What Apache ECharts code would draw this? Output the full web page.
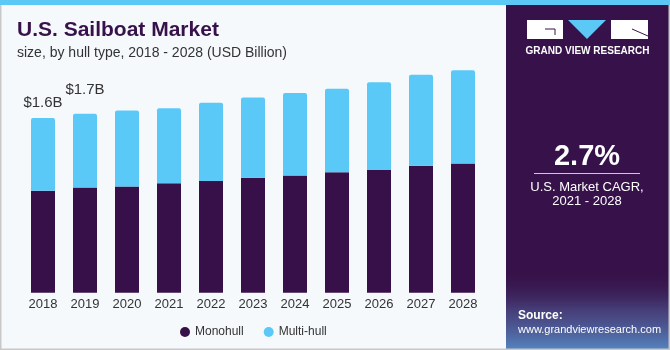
<!DOCTYPE html>
<html>
<head>
<meta charset="utf-8">
<script src="https://cdn.jsdelivr.net/npm/echarts@6/dist/echarts.min.js"></script>
<style>
  html, body { margin: 0; padding: 0; background: #ffffff; }
  #chart { width: 670px; height: 350px; }
</style>
</head>
<body>
<div id="chart"></div>
<script>
// values (USD Billion)
const years = ['2018', '2019', '2020', '2021', '2022', '2023', '2024', '2025', '2026', '2027', '2028'];
const monohull = [0.94, 0.97, 0.98, 1.01, 1.03, 1.06, 1.08, 1.11, 1.13, 1.17, 1.19];
const multihull = [0.67, 0.68, 0.70, 0.69, 0.72, 0.74, 0.76, 0.77, 0.81, 0.84, 0.86];
const totalLabels = ['$1.6B', '$1.7B'];

const chart = echarts.init(document.getElementById('chart'));

// only the first two bars carry a total label
const multiData = multihull.map((v, i) => {
  if (i < totalLabels.length) {
    return {
      value: v,
      label: {
        show: true,
        position: 'top',
        distance: i === 0 ? 8 : 16,
        formatter: totalLabels[i],
        fontSize: 15,
        color: '#333333',
        fontFamily: 'Liberation Sans'
      }
    };
  }
  return v;
});

const option = {
  backgroundColor: '#f5f9fc',
  animation: false,
  title: {
    text: 'U.S. Sailboat Market',
    subtext: 'size, by hull type, 2018 - 2028 (USD Billion)',
    left: 12,
    top: 15,
    itemGap: 5,
    textStyle: { fontSize: 21, fontWeight: 'bold', color: '#37124a', fontFamily: 'Liberation Sans' },
    subtextStyle: { fontSize: 14, color: '#333333', fontFamily: 'Liberation Sans' }
  },
  legend: {
    data: ['Monohull', 'Multi-hull'],
    left: 175,
    top: 321,
    icon: 'circle',
    itemWidth: 10,
    itemHeight: 10,
    itemGap: 20,
    textStyle: { fontSize: 12, color: '#333333', fontFamily: 'Liberation Sans' }
  },
  grid: { left: 22, right: 186, top: 49.7, bottom: 57.3 },
  xAxis: {
    type: 'category',
    data: years,
    axisLine: { show: false },
    axisTick: { show: false },
    axisLabel: { fontSize: 13, color: '#333333', margin: 5, fontFamily: 'Liberation Sans' }
  },
  yAxis: {
    type: 'value',
    min: 0,
    max: 2.24,
    show: false,
    splitLine: { show: false }
  },
  series: [
    {
      name: 'Monohull',
      type: 'bar',
      stack: 'total',
      barWidth: 24,
      data: monohull,
      itemStyle: { color: '#37104a' }
    },
    {
      name: 'Multi-hull',
      type: 'bar',
      stack: 'total',
      barWidth: 24,
      data: multiData,
      itemStyle: { color: '#5bc9f7', borderRadius: [2, 2, 0, 0] }
    }
  ],
  graphic: [
    // outer border and top stripe
    { type: 'rect', shape: { x: 0.5, y: 0.5, width: 669, height: 349 }, style: { fill: 'none', stroke: '#c8c8c8', lineWidth: 2 }, z: 100 },
    { type: 'rect', shape: { x: 0, y: 0, width: 670, height: 5 }, style: { fill: '#5bc8f5' }, z: 101 },
    // right panel
    { type: 'rect', shape: { x: 506, y: 5, width: 163, height: 344 }, style: { fill: '#37124a' }, z: 10 },
    {
      type: 'rect', shape: { x: 506, y: 270, width: 163, height: 79 },
      style: {
        fill: new echarts.graphic.LinearGradient(0, 0, 0, 1, [
          { offset: 0, color: 'rgba(55,18,74,0)' },
          { offset: 0.5, color: 'rgba(80,90,150,0.6)' },
          { offset: 1, color: 'rgba(90,150,210,0.85)' }
        ])
      }, z: 11
    },
    // logo
    { type: 'rect', shape: { x: 527, y: 20, width: 36, height: 19 }, style: { fill: '#ffffff' }, z: 12 },
    { type: 'polyline', shape: { points: [[545, 29], [555, 29], [555, 35]] }, style: { stroke: '#37124a', lineWidth: 1, fill: 'none' }, z: 13 },
    { type: 'polygon', shape: { points: [[568, 20], [606, 20], [587, 39]] }, style: { fill: '#5bc8f5' }, z: 12 },
    { type: 'rect', shape: { x: 611, y: 20, width: 37, height: 19 }, style: { fill: '#ffffff' }, z: 12 },
    { type: 'line', shape: { x1: 632, y1: 29, x2: 648, y2: 36 }, style: { stroke: '#37124a', lineWidth: 1 }, z: 13 },
    { type: 'text', x: 587.5, y: 51, style: { text: 'GRAND VIEW RESEARCH', fill: '#ffffff', font: 'bold 10px "Liberation Sans"', align: 'center', verticalAlign: 'middle' }, z: 12 },
    // CAGR block
    { type: 'text', x: 587, y: 157, style: { text: '2.7%', fill: '#ffffff', font: 'bold 29px "Liberation Sans"', align: 'center', verticalAlign: 'middle' }, z: 12 },
    { type: 'line', shape: { x1: 534, y1: 173.5, x2: 640, y2: 173.5 }, style: { stroke: '#cfc6d6', lineWidth: 1 }, z: 12 },
    { type: 'text', x: 587, y: 187, style: { text: 'U.S. Market CAGR,', fill: '#ffffff', font: '13px "Liberation Sans"', align: 'center', verticalAlign: 'middle' }, z: 12 },
    { type: 'text', x: 587, y: 201, style: { text: '2021 - 2028', fill: '#ffffff', font: '13px "Liberation Sans"', align: 'center', verticalAlign: 'middle' }, z: 12 },
    // source
    { type: 'text', x: 518, y: 316, style: { text: 'Source:', fill: '#ffffff', font: 'bold 12px "Liberation Sans"', verticalAlign: 'middle' }, z: 12 },
    { type: 'text', x: 518, y: 330, style: { text: 'www.grandviewresearch.com', fill: '#ffffff', font: '11px "Liberation Sans"', verticalAlign: 'middle' }, z: 12 }
  ]
};

chart.setOption(option);
</script>
</body>
</html>
